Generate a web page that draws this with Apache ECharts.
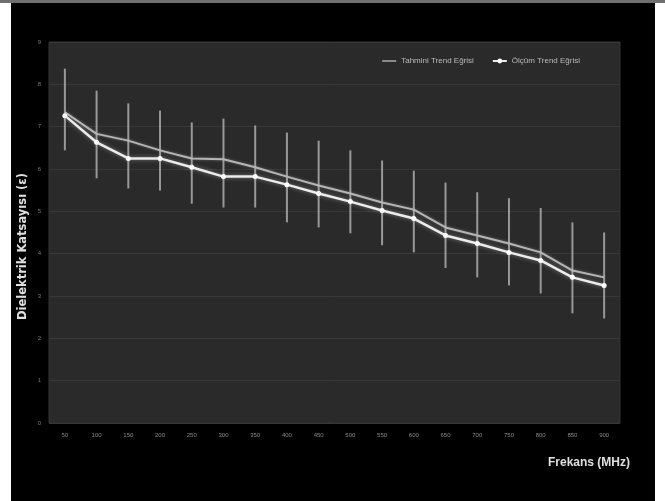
<!DOCTYPE html>
<html><head><meta charset="utf-8">
<script src="https://cdn.jsdelivr.net/npm/echarts@6/dist/echarts.min.js"></script>
<style>
html,body{margin:0;padding:0;background:#fff;}
#c{width:665px;height:501px;
  background:
    linear-gradient(to bottom,#707070 0,#707070 3px,transparent 3px),
    linear-gradient(to right,#fff 0,#fff 11px,#000 11px,#000 655px,#fff 655px);}
</style>
</head><body><div id="c"></div>
<script>
const categories = ['50','100','150','200','250','300','350','400','450','500','550','600','650','700','750','800','850','900'];
const yTicks = ['0','1','2','3','4','5','6','7','8','9'];
const trendA = [7.34,6.83,6.67,6.44,6.25,6.23,6.04,5.82,5.61,5.42,5.21,5.04,4.62,4.43,4.24,4.03,3.60,3.44];
const trendB = [7.26,6.63,6.25,6.25,6.04,5.82,5.82,5.63,5.42,5.23,5.02,4.83,4.43,4.24,4.03,3.84,3.44,3.25];
const errLow  = [6.44,5.78,5.54,5.49,5.18,5.09,5.09,4.74,4.62,4.48,4.20,4.03,3.66,3.44,3.25,3.06,2.59,2.47];
const errHigh = [8.37,7.85,7.55,7.38,7.10,7.19,7.03,6.86,6.67,6.44,6.20,5.96,5.68,5.45,5.31,5.08,4.74,4.50];
const nameA = 'Tahmini Trend Eğrisi';
const nameB = 'Ölçüm Trend Eğrisi';
const xTitle = 'Frekans (MHz)';
const yTitle = 'Dielektrik Katsayısı (ε)';

const chart = echarts.init(document.getElementById('c'));
const errData = categories.map((c,i)=>[i, errLow[i], errHigh[i]]);
chart.setOption({
  backgroundColor:'transparent',
  animation:false,
  grid:{left:49,right:45,top:42,bottom:78,containLabel:false,outerBoundsMode:'none',show:true,backgroundColor:'#2a2a2a',borderColor:'#353535',borderWidth:1},
  legend:{
    right:80, top:52, itemGap:18, itemWidth:14, itemHeight:6,
    textStyle:{color:'#bbb',fontSize:8,fontFamily:'Liberation Sans'},
    data:[{name:nameA,icon:'path://M0,0H10V1H0Z'},{name:nameB}]
  },
  graphic:[
    {type:'text', x:548, y:463, style:{text:xTitle, fill:'#e0e0e0', font:'bold 12px "Liberation Sans"', verticalAlign:'middle'}},
    {type:'text', x:23.5, y:246.5, rotation:Math.PI/2, style:{text:yTitle, fill:'#e0e0e0', font:'bold 11.5px "DejaVu Sans"', align:'center', verticalAlign:'middle'}}
  ],
  xAxis:{
    type:'category', data:categories, boundaryGap:true,
    axisLine:{show:false}, axisTick:{show:false},
    axisLabel:{color:'#8a8a8a',fontSize:6,margin:9,fontFamily:'Liberation Sans'}
  },
  yAxis:{
    type:'value', min:0, max:9, interval:1,
    axisLabel:{color:'#7a7a7a',fontSize:6,margin:8,formatter:v=>yTicks[v]},
    axisLine:{show:false}, axisTick:{show:false},
    splitLine:{show:true,lineStyle:{color:'#383838',width:1}}
  },
  series:[
    {
      type:'custom', name:'err', z:1, silent:true,
      renderItem:function(params, api){
        const x = api.value(0);
        const lo = api.coord([x, api.value(1)]);
        const hi = api.coord([x, api.value(2)]);
        return {type:'line', shape:{x1:lo[0],y1:lo[1],x2:hi[0],y2:hi[1]},
          style:{stroke:'rgba(200,200,200,0.7)',lineWidth:2}};
      },
      encode:{x:0,y:[1,2]},
      data:errData
    },
    {
      name:nameA, type:'line', data:trendA, z:3, symbol:'none',
      lineStyle:{color:'#b5b5b5',width:2,shadowColor:'rgba(255,255,255,0.3)',shadowBlur:3},
      itemStyle:{color:'#b5b5b5'}
    },
    {
      name:nameB, type:'line', data:trendB, z:4, symbol:'circle', symbolSize:5,
      lineStyle:{color:'#ececec',width:2.5,shadowColor:'rgba(255,255,255,0.4)',shadowBlur:4},
      itemStyle:{color:'#ffffff'}
    }
  ]
});
</script></body></html>
